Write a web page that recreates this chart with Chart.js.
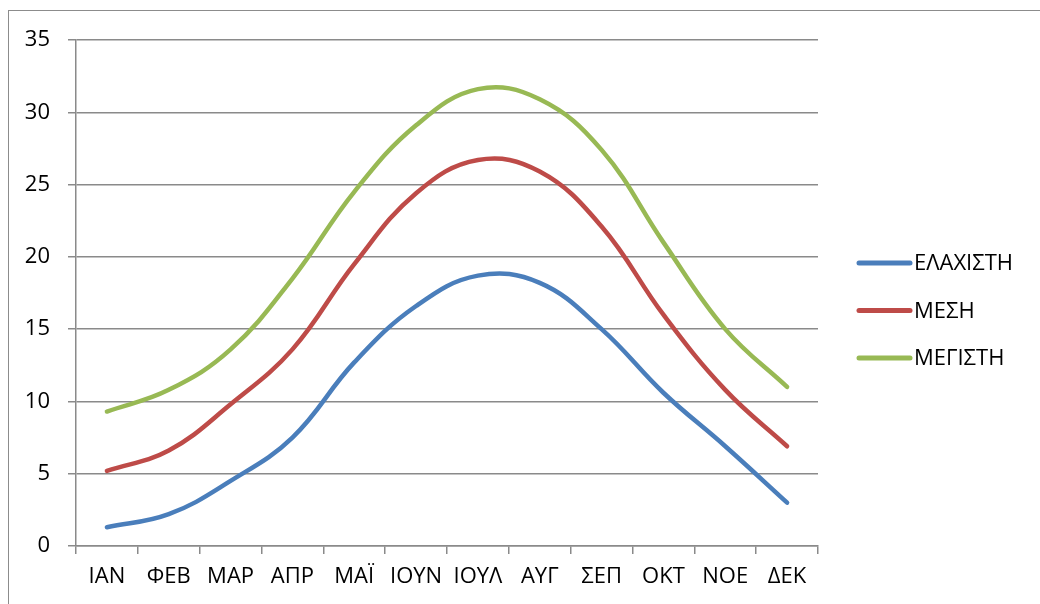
<!DOCTYPE html>
<html>
<head>
<meta charset="utf-8">
<script src="https://cdn.jsdelivr.net/npm/chart.js@4.4.1/dist/chart.umd.min.js"></script>
<style>
  html, body { margin: 0; padding: 0; background: #fff; }
  #wrap { width: 1040px; height: 604px; position: relative; }
</style>
</head>
<body>
<div id="wrap"><canvas id="chart" width="1040" height="604"></canvas></div>
<script>
// Monthly temperatures (°C)
const months = ['ΙΑΝ', 'ΦΕΒ', 'ΜΑΡ', 'ΑΠΡ', 'ΜΑΪ', 'ΙΟΥΝ', 'ΙΟΥΛ', 'ΑΥΓ', 'ΣΕΠ', 'ΟΚΤ', 'ΝΟΕ', 'ΔΕΚ'];
const minTemp  = [1.3, 2.2, 4.5, 7.5, 12.7, 16.6, 18.7, 18.2, 15.0, 10.6, 6.9, 3.0];
const meanTemp = [5.2, 6.6, 9.8, 13.6, 19.5, 24.4, 26.7, 25.9, 22.1, 16.0, 10.8, 6.9];
const maxTemp  = [9.3, 10.8, 13.6, 18.5, 24.5, 29.1, 31.6, 30.9, 27.4, 21.0, 15.0, 11.0];
const seriesNames = ['ΕΛΑΧΙΣΤΗ', 'ΜΕΣΗ', 'ΜΕΓΙΣΤΗ'];
const yMin = 0, yMax = 35, yStep = 5;

const colors = ['#4A7EBB', '#BE4B48', '#98B954'];
const FONT = '"Open Sans", "Noto Sans", sans-serif';
const FONT_SIZE = 22;
const AXIS_GREY = '#8a8a8a';

// Thin outer frame around the whole figure
const framePlugin = {
  id: 'frame',
  beforeDraw(chart) {
    const ctx = chart.ctx;
    ctx.save();
    ctx.fillStyle = '#fff';
    ctx.fillRect(0, 0, chart.width, chart.height);
    ctx.strokeStyle = '#8c8c8c';
    ctx.lineWidth = 1;
    ctx.strokeRect(8.5, 10.5, chart.width + 20, chart.height + 20);
    ctx.restore();
  }
};

// Legend on the right: line sample + series name
const sideLegend = {
  id: 'sideLegend',
  afterDraw(chart) {
    const ctx = chart.ctx;
    ctx.save();
    ctx.font = FONT_SIZE + 'px ' + FONT;
    ctx.textBaseline = 'middle';
    ctx.textAlign = 'left';
    chart.data.datasets.forEach((ds, i) => {
      const y = 263 + i * 47.5;
      ctx.strokeStyle = ds.borderColor;
      ctx.lineWidth = 5;
      ctx.lineCap = 'round';
      ctx.beginPath();
      ctx.moveTo(859, y);
      ctx.lineTo(910, y);
      ctx.stroke();
      ctx.fillStyle = '#000';
      ctx.fillText(ds.label, 914, y + 1);
    });
    ctx.restore();
  }
};

const seriesValues = [minTemp, meanTemp, maxTemp];

new Chart(document.getElementById('chart'), {
  type: 'line',
  data: {
    labels: months,
    datasets: seriesValues.map((vals, i) => ({
      label: seriesNames[i],
      data: vals,
      borderColor: colors[i],
      backgroundColor: colors[i],
      borderWidth: 4.5,
      borderCapStyle: 'round',
      borderJoinStyle: 'round',
      tension: 0.4,
      pointRadius: 0,
      pointHoverRadius: 0,
      fill: false
    }))
  },
  options: {
    responsive: false,
    devicePixelRatio: 1,
    animation: false,
    layout: { padding: { top: 40, right: 222, bottom: 0, left: 0 } },
    plugins: {
      legend: { display: false },
      tooltip: { enabled: false },
      title: { display: false }
    },
    scales: {
      x: {
        type: 'category',
        offset: true,
        grid: {
          offset: true,
          drawOnChartArea: false,
          drawTicks: true,
          tickLength: 8,
          color: AXIS_GREY,
          lineWidth: 1.5
        },
        border: { display: true, color: AXIS_GREY, width: 1.5 },
        ticks: {
          color: '#000',
          font: { family: FONT, size: FONT_SIZE },
          padding: 10,
          maxRotation: 0,
          autoSkip: false
        },
        afterFit(scale) { scale.height = 58; }
      },
      y: {
        min: yMin,
        max: yMax,
        grid: {
          drawTicks: true,
          tickLength: 8,
          color: AXIS_GREY,
          lineWidth: 1.5
        },
        border: { display: true, color: AXIS_GREY, width: 1.5 },
        ticks: {
          stepSize: yStep,
          color: '#000',
          font: { family: FONT, size: FONT_SIZE },
          padding: 18
        },
        afterFit(scale) { scale.width = 76; }
      }
    }
  },
  plugins: [framePlugin, sideLegend]
});
</script>
</body>
</html>
